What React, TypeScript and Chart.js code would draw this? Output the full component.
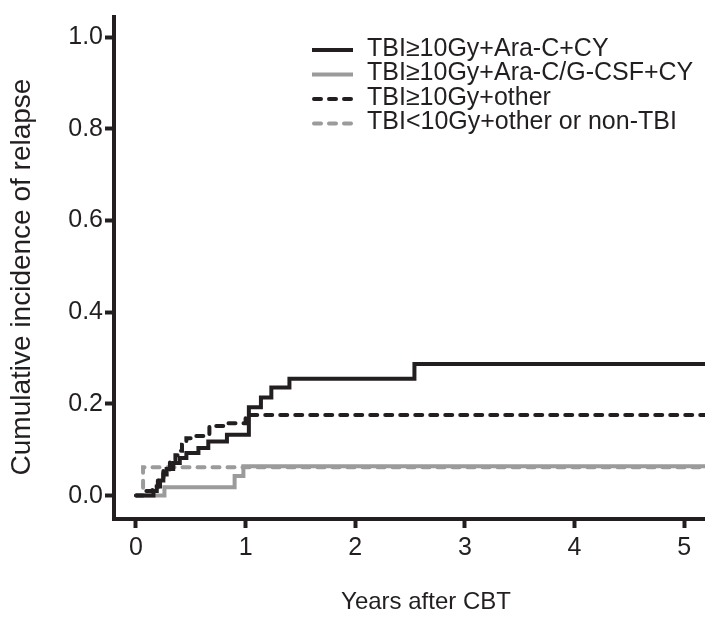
import React, { useEffect, useRef } from "react";
import { Chart, registerables } from "chart.js";

Chart.register(...registerables);

// ---- data ----
const seriesLabels = [
  "TBI≥10Gy+Ara-C+CY",
  "TBI≥10Gy+Ara-C/G-CSF+CY",
  "TBI≥10Gy+other",
  "TBI<10Gy+other or non-TBI",
];

const araCcyYears = [0, 0.16, 0.19, 0.22, 0.25, 0.28, 0.34, 0.4, 0.46, 0.57, 0.66, 0.83, 1.03, 1.14, 1.235, 1.4, 2.54, 5.19];
const araCcyIncidence = [0, 0.01, 0.02, 0.033, 0.046, 0.058, 0.071, 0.082, 0.093, 0.104, 0.118, 0.133, 0.193, 0.214, 0.236, 0.255, 0.287, 0.287];

const gcsfYears = [0, 0.26, 0.9, 0.98, 5.19];
const gcsfIncidence = [0, 0.018, 0.043, 0.064, 0.064];

const otherYears = [0, 0.07, 0.15, 0.2, 0.25, 0.31, 0.36, 0.39, 0.42, 0.46, 0.54, 0.67, 0.8, 1.0, 5.19];
const otherIncidence = [0, 0.01, 0.02, 0.035, 0.054, 0.075, 0.088, 0.098, 0.111, 0.125, 0.13, 0.152, 0.158, 0.176, 0.176];

const lowTbiYears = [0, 0.065, 5.19];
const lowTbiIncidence = [0, 0.062, 0.062];

const xTickValues = [0, 1, 2, 3, 4, 5];
const yTickValues = [0, 0.2, 0.4, 0.6, 0.8, 1.0];

const xTitle = "Years after CBT";
const yTitle = "Cumulative incidence of relapse";

// ---- styles ----
const INK = "#231f20";
const GREY = "#9b9b9b";
const FONT = "'Liberation Sans', Arial, Helvetica, sans-serif";

const toPoints = (xs: number[], ys: number[]) => xs.map((x, i) => ({ x, y: ys[i] }));

const legendAndTitles = {
  id: "legendAndTitles",
  afterDraw(chart: any) {
    const ctx = chart.ctx;
    const area = chart.chartArea;
    ctx.save();
    // legend
    const lx0 = 312;
    const lx1 = 353;
    const tx = 367;
    const y0 = 49;
    const dy = 24.5;
    chart.data.datasets.forEach((ds: any, i: number) => {
      const y = y0 + i * dy;
      ctx.save();
      ctx.strokeStyle = ds.borderColor;
      ctx.lineWidth = ds.borderWidth;
      ctx.lineCap = ds.borderCapStyle || "butt";
      ctx.setLineDash(ds.borderDash || []);
      ctx.beginPath();
      ctx.moveTo(lx0 + (ds.borderDash ? 2 : 0), y + 1);
      ctx.lineTo(lx1, y + 1);
      ctx.stroke();
      ctx.restore();
      ctx.fillStyle = INK;
      ctx.font = `25px ${FONT}`;
      ctx.textBaseline = "middle";
      ctx.textAlign = "left";
      ctx.fillText(ds.label, tx, y);
    });
    // axis titles
    ctx.fillStyle = INK;
    ctx.textAlign = "center";
    ctx.textBaseline = "middle";
    ctx.font = `24px ${FONT}`;
    ctx.fillText(xTitle, area.left + 312, 602);
    ctx.font = `28px ${FONT}`;
    ctx.translate(22, area.top + 260);
    ctx.rotate(-Math.PI / 2);
    ctx.fillText(yTitle, 0, 0);
    ctx.restore();
  },
};

export default function App() {
  const ref = useRef<HTMLCanvasElement | null>(null);

  useEffect(() => {
    if (!ref.current) return;
    const lineBase = {
      borderWidth: 4,
      pointRadius: 0,
      stepped: "before" as const,
      fill: false,
    };
    const chart = new Chart(ref.current, {
      type: "line",
      data: {
        datasets: [
          { ...lineBase, label: seriesLabels[0], data: toPoints(araCcyYears, araCcyIncidence), borderColor: INK, borderCapStyle: "butt" },
          { ...lineBase, label: seriesLabels[1], data: toPoints(gcsfYears, gcsfIncidence), borderColor: GREY, borderCapStyle: "butt" },
          { ...lineBase, label: seriesLabels[2], data: toPoints(otherYears, otherIncidence), borderColor: INK, borderDash: [7, 8], borderCapStyle: "round" },
          { ...lineBase, label: seriesLabels[3], data: toPoints(lowTbiYears, lowTbiIncidence), borderColor: GREY, borderDash: [7, 8], borderCapStyle: "round" },
        ] as any,
      },
      options: {
        responsive: false,
        animation: false,
        layout: { padding: { top: 7, right: 0, left: 0, bottom: 0 } },
        plugins: { legend: { display: false }, tooltip: { enabled: false } },
        scales: {
          x: {
            type: "linear",
            min: -0.2,
            max: 5.19,
            afterFit: (s: any) => { s.height = 100; },
            afterBuildTicks: (s: any) => { s.ticks = xTickValues.map((v) => ({ value: v })); },
            ticks: {
              color: INK,
              font: { family: FONT, size: 25 },
              padding: 5,
              maxRotation: 0,
              callback: (v: any) => String(v),
            },
            grid: { drawOnChartArea: false, drawTicks: true, tickLength: 9, tickWidth: 4, tickColor: INK, color: INK },
            border: { display: true, width: 4, color: INK },
          },
          y: {
            type: "linear",
            min: -0.051,
            max: 1.044,
            afterFit: (s: any) => { s.width = 114; },
            afterBuildTicks: (s: any) => { s.ticks = yTickValues.map((v) => ({ value: v })); },
            ticks: {
              color: INK,
              font: { family: FONT, size: 25 },
              padding: 2,
              callback: (v: any) => Number(v).toFixed(1),
            },
            grid: { drawOnChartArea: false, drawTicks: true, tickLength: 9, tickWidth: 4, tickColor: INK, color: INK },
            border: { display: true, width: 4, color: INK },
          },
        },
      } as any,
      plugins: [legendAndTitles],
    });
    return () => chart.destroy();
  }, []);

  return (
    <div style={{ position: "absolute", left: 0, top: 0, width: 705, height: 619, background: "#fff" }}>
      <canvas ref={ref} width={705} height={619} style={{ display: "block" }} />
    </div>
  );
}
